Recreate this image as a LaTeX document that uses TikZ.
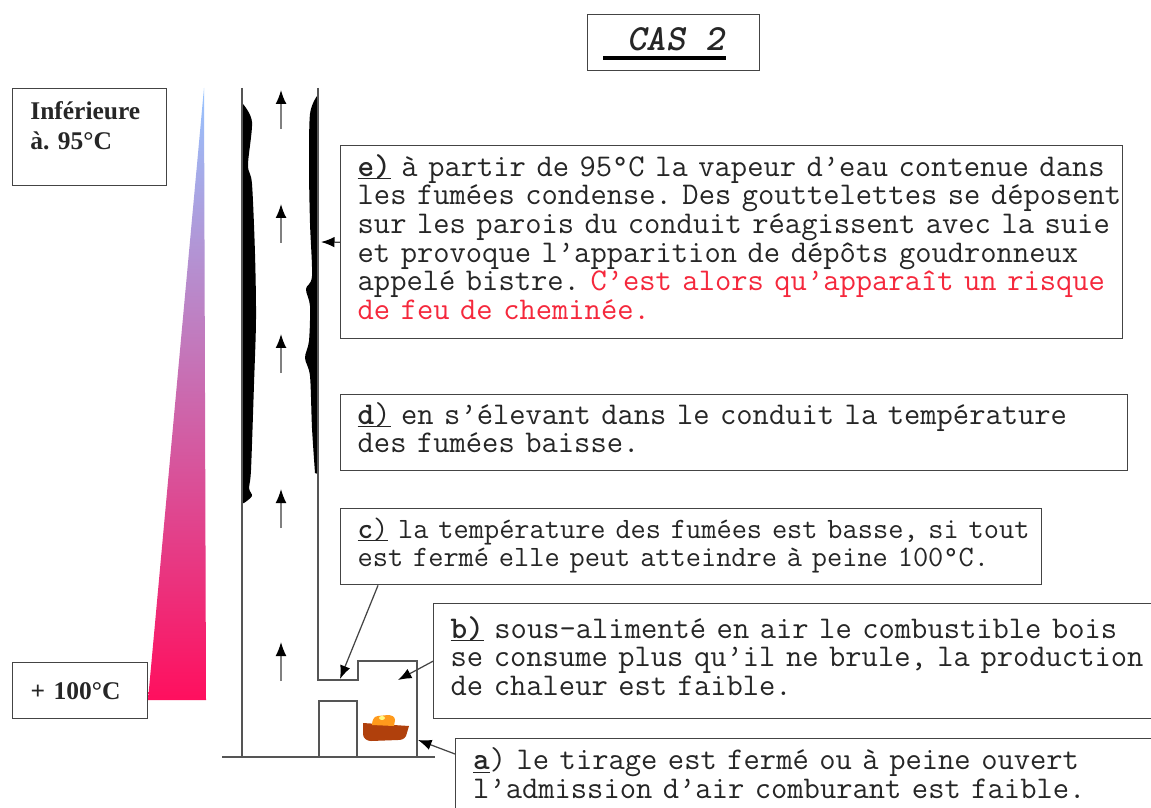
\documentclass[tikz,border=0pt]{standalone}
\usepackage{fontspec}
\setmainfont{Liberation Serif}
\usepackage{tikz}
\usetikzlibrary{arrows.meta,shapes,calc}
\usepackage{xcolor}
\definecolor{boxgray}{HTML}{444444}
\definecolor{wallgray}{HTML}{555555}
\definecolor{txt}{HTML}{262626}
\definecolor{alert}{HTML}{F5283C}
\definecolor{coolblue}{HTML}{97C4FF}
\definecolor{midlilac}{HTML}{C39CCF}
\definecolor{hotpink}{HTML}{FF0F5E}
\definecolor{logbrown}{HTML}{B0400C}
\definecolor{flame}{HTML}{FF9A1C}
\newcommand{\tag}[2]{\underline{\smash{\textbf{#1}#2}}}
\newcommand{\notelines}[1]{\begin{tabular}{@{}l@{}}#1\end{tabular}}

\begin{document}
\begin{tikzpicture}[x=0.02cm,y=-0.02cm,>={Latex[length=0.27cm,width=0.21cm]}]
  \tikzstyle{note}=[draw=boxgray,line width=0.8pt,fill=white,anchor=north west,inner xsep=0.34cm,inner ysep=0pt,align=left,text=txt,font=\ttfamily\frenchspacing\fontsize{18}{16.3}\selectfont]
  \tikzstyle{tempbox}=[draw=boxgray,line width=0.8pt,anchor=north west,align=left,text=txt,font=\bfseries\fontsize{14.5}{17}\selectfont]
  \tikzstyle{wall}=[draw=wallgray,line width=0.8pt]
  \tikzstyle{flow}=[draw=black!50,line width=0.9pt,-{Latex[black,length=0.28cm,width=0.22cm]}]
  \tikzstyle{call}=[draw=boxgray,line width=0.7pt,-{Latex[black,length=0.27cm,width=0.21cm]}]
  \useasboundingbox[fill=white] (0,0) rectangle (1151,807);

  % title
  \node(cas) at (587,14)[draw=boxgray,line width=0.8pt,anchor=north west,minimum width=3.44cm,minimum height=1.12cm]{};
  \node(cas-txt) at (676,39)[text=txt,font=\ttfamily\bfseries\itshape\fontsize{21}{22}\selectfont]{CAS 2};
  \draw[line width=2.3pt] (603,58) -- (726,58);

  % temperature scale
  \shade[top color=coolblue,middle color=midlilac,bottom color=hotpink] (204,88) -- (206,700) -- (148,700) -- cycle;
  \node(cold) at (12,88)[tempbox,minimum width=3.08cm,minimum height=1.94cm]{};
  \node(cold-txt) at (30,101)[anchor=north west,inner sep=0pt,align=left,text=txt,font=\bfseries\fontsize{14.5}{17}\selectfont]{Inférieure\\à. 95°C};
  \node(hot) at (12,662)[tempbox,fill=white,minimum width=2.7cm,minimum height=1.12cm,inner xsep=0.36cm,text width=1.98cm]{+ 100°C};

  % soot on the flue walls
  \fill[black] (242,104) -- plot[smooth] coordinates{(243,104)(252,122)(248,165)(252,184)(255,254)(256,319)(254,384)(251,470)(249,488)(252,496)(244,503)} -- (242,503) -- cycle;
  \fill[black] (318,96) -- plot[smooth] coordinates{(317,96)(310,114)(309,167)(310,223)(312,276)(306,289)(310,306)(309,341)(305,358)(310,376)(312,428)(315,473)} -- (318,474) -- cycle;

  % flue, stove and ground
  \draw[wall] (242,88) -- (242,757);
  \draw[wall] (318,88) -- (318,680) -- (358,680) -- (358,661) -- (417,661) -- (417,757);
  \draw[wall] (319,757) -- (319,701) -- (357,701) -- (357,757);
  \draw[wall] (222,757) -- (435,757);
  \foreach \y in {90,204,334,489,642}
    \draw[flow] (281,\y+39) -- (281,\y);

  % fire
  \fill[logbrown] (363,723) -- (409,726) -- (406,736) to[out=-120,in=0] (398,740) -- (371,741) to[out=180,in=-90] (363,734) -- cycle;
  \fill[flame] (372,725) to[out=90,in=180] (378,716) -- (388,715) to[out=0,in=90] (395,720) -- (394,726) -- cycle;
  \fill[yellow!50] (382,718) ellipse (3 and 2);

  % notes
  \node(e-box) at (340,145)[note,text width=14.96cm,minimum width=15.64cm,minimum height=3.86cm]{\notelines{\tag{e)}{} à partir de 95°C la vapeur d’eau contenue dans\\les fumées condense. Des gouttelettes se déposent\\sur les parois du conduit réagissent avec la suie\\et provoque l’apparition de dépôts goudronneux\\appelé bistre. {\color{alert}C’est alors qu’apparaît un risque}\\{\color{alert}de feu de cheminée.}}};
  \node(d-box) at (340,394)[note,text width=15.06cm,minimum width=15.74cm,minimum height=1.52cm]{\notelines{\tag{d}{)} en s’élevant dans le conduit la température\\des fumées baisse.}};
  \node(c-box) at (340,508)[note,font=\ttfamily\frenchspacing\fontsize{16.8}{16}\selectfont,text width=13.34cm,minimum width=14.02cm,minimum height=1.52cm]{\notelines{\tag{c}{)} la température des fumées est basse, si tout\\est fermé elle peut atteindre à peine 100°C.}};
  \node(b-box) at (433,603)[note,text width=14.12cm,minimum width=14.8cm,minimum height=2.3cm]{\notelines{\tag{b)}{} sous-alimenté en air le combustible bois\\se consume plus qu’il ne brule, la production\\de chaleur est faible.}};
  \node(a-box) at (455,738)[note,text width=13.7cm,minimum width=14.4cm,minimum height=1.55cm]{\notelines{\tag{a}{}) le tirage est fermé ou à peine ouvert\\l’admission d’air comburant est faible.}};

  % callouts
  \coordinate(e-tip) at (321,242);
  \coordinate(c-tip) at (340,679);
  \coordinate(b-tip) at (398,680);
  \coordinate(a-tip) at (418,740);
  \draw[call] (e-box.west) -- (e-tip);
  \draw[call] ($(c-box.south west)+(38,0)$) -- (c-tip);
  \draw[call] (b-box.west) -- (b-tip);
  \draw[call] ($(a-box.north west)+(0,16)$) -- (a-tip);
\end{tikzpicture}
\end{document}
